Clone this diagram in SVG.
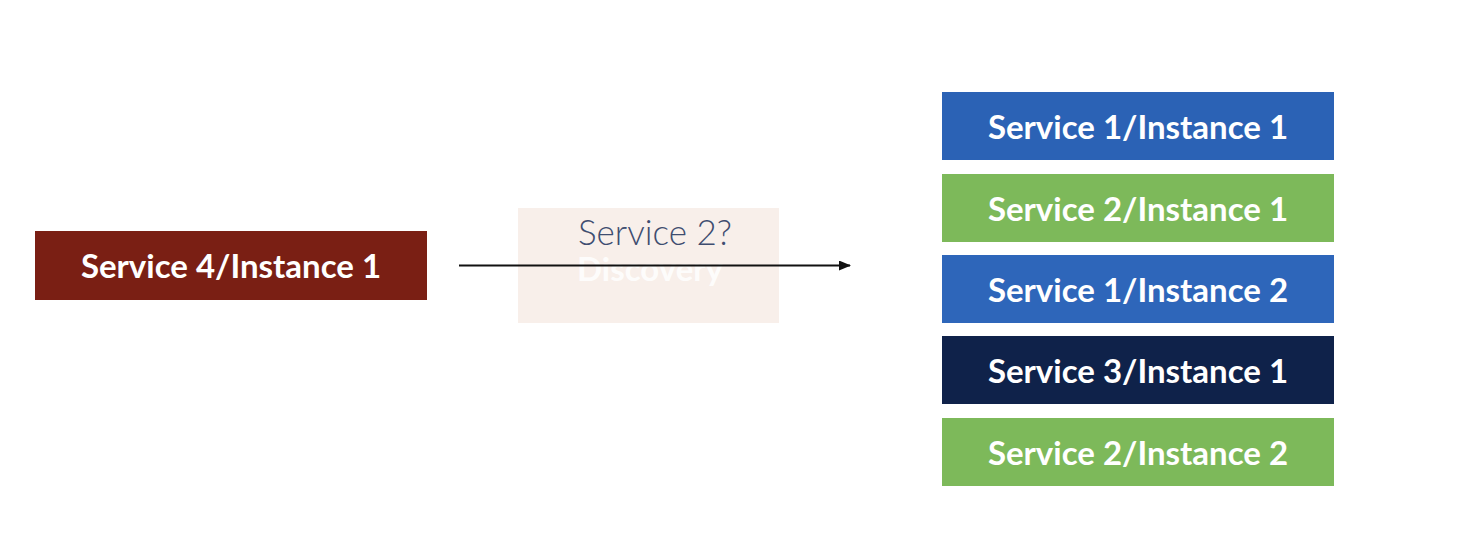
<svg xmlns="http://www.w3.org/2000/svg" width="1460" height="560" viewBox="0 0 1460 560">
<defs>
<marker id="ah" markerWidth="12" markerHeight="10" refX="11" refY="5" orient="auto" markerUnits="userSpaceOnUse">
<path d="M0,0 L12,5 L0,10 Z" fill="#111"/>
</marker>
</defs>
<style>
.box{stroke:none}
.lbl{font-family:Lato,"Open Sans",sans-serif;font-weight:700;font-size:33px;fill:#ffffff;text-anchor:middle}
.q{font-family:Lato,"Open Sans",sans-serif;font-weight:300;font-size:35px;fill:#3f4d70;text-anchor:middle}
.disc{font-family:Lato,"Open Sans",sans-serif;font-weight:700;font-size:33px;fill:#ffffff;fill-opacity:0.85;text-anchor:middle}
</style>
<rect width="1460" height="560" fill="#ffffff"/>
<g id="discovery">
<rect x="518" y="208" width="261" height="115" fill="#f8efea"/>
<text class="q" x="655" y="245">Service 2?</text>
<text class="disc" x="650" y="281">Discovery</text>
</g>
<g id="s4i1">
<rect class="box" x="35" y="231" width="392" height="69" fill="#7a1f14"/>
<text class="lbl" x="231" y="278">Service 4/Instance 1</text>
</g>
<g id="s1i1">
<rect class="box" x="942" y="92" width="392" height="68" fill="#2b62b5"/>
<text class="lbl" x="1138" y="139">Service 1/Instance 1</text>
</g>
<g id="s2i1">
<rect class="box" x="942" y="174" width="392" height="68" fill="#7db95a"/>
<text class="lbl" x="1138" y="221">Service 2/Instance 1</text>
</g>
<g id="s1i2">
<rect class="box" x="942" y="255" width="392" height="68" fill="#2e66ba"/>
<text class="lbl" x="1138" y="302">Service 1/Instance 2</text>
</g>
<g id="s3i1">
<rect class="box" x="942" y="336" width="392" height="68" fill="#0f224a"/>
<text class="lbl" x="1138" y="383">Service 3/Instance 1</text>
</g>
<g id="s2i2">
<rect class="box" x="942" y="418" width="392" height="68" fill="#7db95a"/>
<text class="lbl" x="1138" y="465">Service 2/Instance 2</text>
</g>
<g id="connectors">
<line x1="459" y1="265.5" x2="850" y2="265.5" stroke="#111" stroke-width="2" marker-end="url(#ah)"/>
</g>
</svg>
